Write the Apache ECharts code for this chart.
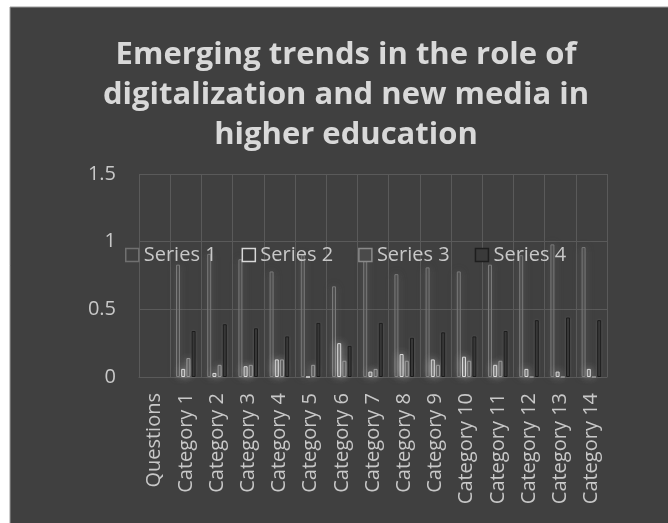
<!DOCTYPE html>
<html>
<head>
<meta charset="utf-8">
<script src="https://cdn.jsdelivr.net/npm/echarts@6/dist/echarts.min.js"></script>
<style>
html,body{margin:0;padding:0;background:#fff;}
#c{width:668px;height:523px;}
</style>
</head>
<body>
<div id="c"></div>
<script>
const categories = ['Questions','Category 1','Category 2','Category 3','Category 4','Category 5','Category 6','Category 7','Category 8','Category 9','Category 10','Category 11','Category 12','Category 13','Category 14'];
const series1 = ['-',0.83,0.91,0.87,0.78,0.90,0.67,0.94,0.76,0.81,0.78,0.83,0.90,0.98,0.96];
const series2 = ['-',0.06,0.03,0.08,0.13,0,0.25,0.04,0.17,0.13,0.15,0.09,0.06,0.04,0.06];
const series3 = ['-',0.14,0.09,0.09,0.13,0.09,0.12,0.06,0.12,0.09,0.12,0.12,0,0,0];
const series4 = ['-',0.34,0.39,0.36,0.30,0.40,0.23,0.40,0.29,0.33,0.30,0.34,0.42,0.44,0.42];
const yTicks = {min:0, max:1.5, interval:0.5};

const chart = echarts.init(document.getElementById('c'));
const font = '"Open Sans", sans-serif';
const txt = '#c8c8c8';
const gridColor = '#5a5a5a';
function bar(name, data, fill, border, glow){
  return {
    name, type:'bar', data, barWidth:4, barGap:'30%',
    itemStyle:{color:fill, borderColor:border, borderWidth:1, shadowBlur:glow?8:3, shadowColor:glow||'rgba(255,255,255,0.12)'},
    emphasis:{disabled:true}
  };
}
chart.setOption({
  backgroundColor:'#ffffff',
  animation:false,
  graphic:[{type:'rect', z:-10, shape:{x:10,y:7,width:668,height:523}, style:{fill:'#404040', stroke:'#9a9a9a', lineWidth:1}}],
  title:{
    text:'Emerging trends in the role of\ndigitalization and new media in\nhigher education',
    left:341, top:30, textAlign:'center',
    textStyle:{color:'#d9d9d9', fontFamily:font, fontWeight:'bold', fontSize:31, lineHeight:40}
  },
  legend:{
    left:120, top:240, itemWidth:13, itemHeight:13, itemGap:25,
    textStyle:{color:txt, fontFamily:font, fontSize:20},
    data:[
      {name:'Series 1', icon:'rect', itemStyle:{color:'rgba(0,0,0,0)', borderColor:'#707070', borderWidth:1.5}},
      {name:'Series 2', icon:'rect', itemStyle:{color:'#3a3a3a', borderColor:'#d8d8d8', borderWidth:1.5}},
      {name:'Series 3', icon:'rect', itemStyle:{color:'#4a4a4a', borderColor:'#8a8a8a', borderWidth:1.5}},
      {name:'Series 4', icon:'rect', itemStyle:{color:'#3a3a3a', borderColor:'#1e1e1e', borderWidth:1.5}}
    ]
  },
  grid:{left:139, right:61, top:174, bottom:146},
  xAxis:{
    type:'category', data:categories,
    axisLine:{show:true, lineStyle:{color:gridColor}},
    axisTick:{show:false},
    splitLine:{show:true, lineStyle:{color:gridColor, width:1}},
    axisLabel:{rotate:90, color:txt, fontFamily:font, fontSize:20, margin:16, interval:0}
  },
  yAxis:{
    type:'value', min:yTicks.min, max:yTicks.max, interval:yTicks.interval,
    axisLine:{show:false}, axisTick:{show:false},
    splitLine:{lineStyle:{color:gridColor, width:1}},
    axisLabel:{color:txt, fontFamily:font, fontSize:20, margin:23}
  },
  series:[
    bar('Series 1', series1, 'rgba(90,90,90,0.4)', '#7a7a7a', 'rgba(130,130,130,0.4)'),
    bar('Series 2', series2, '#6a6a6a', '#dadada', 'rgba(255,255,255,0.5)'),
    bar('Series 3', series3, '#5a5a5a', '#9a9a9a', 'rgba(255,255,255,0.3)'),
    bar('Series 4', series4, '#303030', '#1c1c1c', null)
  ]
});
</script>
</body>
</html>
